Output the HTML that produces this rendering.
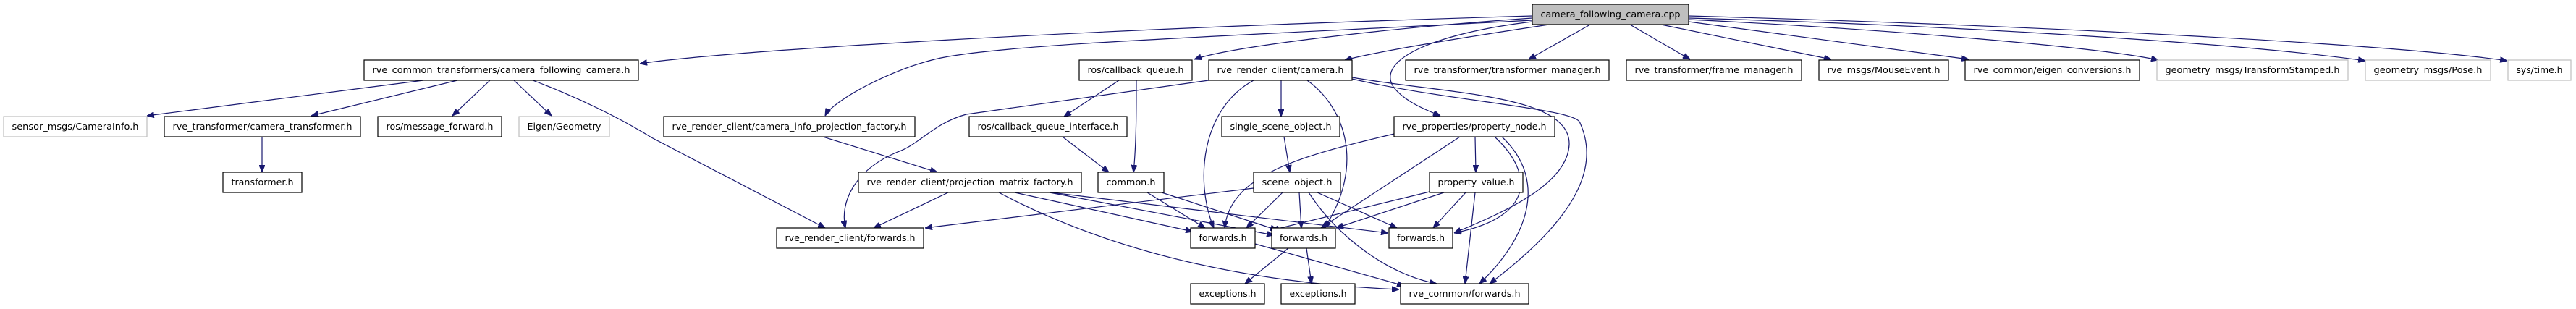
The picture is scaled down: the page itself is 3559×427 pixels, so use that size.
<!DOCTYPE html>
<html><head><meta charset="utf-8"><style>
html,body{margin:0;padding:0;background:#fff;}
svg{display:block;}
text{font-family:"DejaVu Sans","Liberation Sans",sans-serif;font-size:12px;fill:#000;}
.n rect{fill:#fff;stroke:#000;stroke-width:1.2;}
.g rect{fill:#fff;stroke:#bfbfbf;stroke-width:1.2;}
.e path{fill:none;stroke:#191970;stroke-width:1.2;}
</style></head><body>
<svg width="3559" height="427" viewBox="0 0 3559 427" xmlns="http://www.w3.org/2000/svg">
<defs>
<marker id="a" markerWidth="10" markerHeight="8" refX="10" refY="4" orient="auto" markerUnits="userSpaceOnUse">
<path d="M0,0 L10,4 L0,8 Z" fill="#191970" stroke="#191970"/>
</marker>
</defs>
<g class="e" marker-end="url(#a)">
<path d="M2117,22 C1500,40 1000,70 884,88" marker-end="url(#a)"/>
<path d="M2117,25 C1900,40 1700,65 1650,82" marker-end="url(#a)"/>
<path d="M2140,34 C2000,55 1900,72 1858,83" marker-end="url(#a)"/>
<path d="M2117,28 C1700,50 1400,60 1300,80 C1230,95 1150,140 1140,160" marker-end="url(#a)"/>
<path d="M2117,30 C1990,45 1900,80 1925,120 C1940,140 1970,152 1990,160" marker-end="url(#a)"/>
<path d="M2197,34 L2112,82" marker-end="url(#a)"/>
<path d="M2252,34 L2335,82" marker-end="url(#a)"/>
<path d="M2295,34 L2530,82" marker-end="url(#a)"/>
<path d="M2333,30 L2720,82" marker-end="url(#a)"/>
<path d="M2333,27 C2600,40 2900,65 2982,83" marker-end="url(#a)"/>
<path d="M2333,25 C2700,35 3100,60 3268,84" marker-end="url(#a)"/>
<path d="M2333,22 C2800,35 3300,60 3464,84" marker-end="url(#a)"/>

<path d="M585,111 L203,160" marker-end="url(#a)"/>
<path d="M632,111 L430,160" marker-end="url(#a)"/>
<path d="M677,111 L625,160" marker-end="url(#a)"/>
<path d="M710,111 L762,160" marker-end="url(#a)"/>
<path d="M736,111 C800,135 860,165 900,190 L1140,315" marker-end="url(#a)"/>
<path d="M362,189 L362,238" marker-end="url(#a)"/>

<path d="M1546,111 L1470,161" marker-end="url(#a)"/>
<path d="M1570,111 C1570,150 1570,200 1566,238" marker-end="url(#a)"/>

<path d="M1670,111 L1335,158 C1290,170 1270,200 1240,210 C1180,235 1160,280 1168,315" marker-end="url(#a)"/>
<path d="M1732,111 C1660,150 1650,250 1677,315" marker-end="url(#a)"/>
<path d="M1770,111 L1770,161" marker-end="url(#a)"/>
<path d="M1806,111 C1860,150 1885,230 1830,315" marker-end="url(#a)"/>
<path d="M1868,107 C2000,130 2170,130 2168,200 C2165,260 2060,300 2009,322" marker-end="url(#a)"/>
<path d="M1868,109 C2000,140 2180,150 2183,170 C2210,230 2180,300 2058,392" marker-end="url(#a)"/>

<path d="M1137,189 L1295,238" marker-end="url(#a)"/>
<path d="M1468,189 L1532,238" marker-end="url(#a)"/>

<path d="M1310,266 L1207,315" marker-end="url(#a)"/>
<path d="M1402,266 L1648,320" marker-end="url(#a)"/>
<path d="M1450,266 L1760,325" marker-end="url(#a)"/>
<path d="M1452,266 L1918,322" marker-end="url(#a)"/>
<path d="M1380,266 C1520,340 1700,390 1933,400" marker-end="url(#a)"/>

<path d="M1585,266 L1665,315" marker-end="url(#a)"/>
<path d="M1605,266 L1765,318" marker-end="url(#a)"/>

<path d="M1774,189 L1782,238" marker-end="url(#a)"/>
<path d="M1732,260 L1278,315" marker-end="url(#a)"/>
<path d="M1772,266 L1722,315" marker-end="url(#a)"/>
<path d="M1795,266 L1798,315" marker-end="url(#a)"/>
<path d="M1820,266 L1930,315" marker-end="url(#a)"/>
<path d="M1808,266 C1850,330 1920,380 1985,392" marker-end="url(#a)"/>

<path d="M1926,185 C1800,215 1700,240 1692,315" marker-end="url(#a)"/>
<path d="M2017,189 L1825,315" marker-end="url(#a)"/>
<path d="M2038,189 L2039,238" marker-end="url(#a)"/>
<path d="M2065,189 C2120,240 2120,300 2009,322" marker-end="url(#a)"/>
<path d="M2075,189 C2140,250 2110,330 2044,392" marker-end="url(#a)"/>

<path d="M1975,265 L1757,318" marker-end="url(#a)"/>
<path d="M1995,266 L1846,315" marker-end="url(#a)"/>
<path d="M2025,266 L1980,315" marker-end="url(#a)"/>
<path d="M2038,266 L2024,392" marker-end="url(#a)"/>

<path d="M1734,337 L1940,395" marker-end="url(#a)"/>
<path d="M1780,343 L1720,392" marker-end="url(#a)"/>
<path d="M1805,343 L1812,392" marker-end="url(#a)"/>
</g>

<!-- nodes -->
<g class="n"><rect x="2117" y="6" width="216" height="28" style="fill:#bfbfbf"/><text x="2225" y="20" text-anchor="middle" dominant-baseline="central" textLength="193" lengthAdjust="spacingAndGlyphs">camera_following_camera.cpp</text></g>

<g class="n"><rect x="503" y="83" width="379" height="28"/><text x="692.5" y="97" text-anchor="middle" dominant-baseline="central" textLength="356" lengthAdjust="spacingAndGlyphs">rve_common_transformers/camera_following_camera.h</text></g>
<g class="n"><rect x="1491" y="83" width="156" height="28"/><text x="1569" y="97" text-anchor="middle" dominant-baseline="central" textLength="133" lengthAdjust="spacingAndGlyphs">ros/callback_queue.h</text></g>
<g class="n"><rect x="1670" y="83" width="198" height="28"/><text x="1769" y="97" text-anchor="middle" dominant-baseline="central" textLength="175" lengthAdjust="spacingAndGlyphs">rve_render_client/camera.h</text></g>
<g class="n"><rect x="1942" y="83" width="281" height="28"/><text x="2082.5" y="97" text-anchor="middle" dominant-baseline="central" textLength="258" lengthAdjust="spacingAndGlyphs">rve_transformer/transformer_manager.h</text></g>
<g class="n"><rect x="2247" y="83" width="242" height="28"/><text x="2368" y="97" text-anchor="middle" dominant-baseline="central" textLength="219" lengthAdjust="spacingAndGlyphs">rve_transformer/frame_manager.h</text></g>
<g class="n"><rect x="2513" y="83" width="179" height="28"/><text x="2602.5" y="97" text-anchor="middle" dominant-baseline="central" textLength="156" lengthAdjust="spacingAndGlyphs">rve_msgs/MouseEvent.h</text></g>
<g class="n"><rect x="2715" y="83" width="241" height="28"/><text x="2835.5" y="97" text-anchor="middle" dominant-baseline="central" textLength="218" lengthAdjust="spacingAndGlyphs">rve_common/eigen_conversions.h</text></g>
<g class="g"><rect x="2980" y="83" width="264" height="28"/><text x="3112" y="97" text-anchor="middle" dominant-baseline="central" textLength="241" lengthAdjust="spacingAndGlyphs">geometry_msgs/TransformStamped.h</text></g>
<g class="g"><rect x="3268" y="83" width="173" height="28"/><text x="3354.5" y="97" text-anchor="middle" dominant-baseline="central" textLength="150" lengthAdjust="spacingAndGlyphs">geometry_msgs/Pose.h</text></g>
<g class="g"><rect x="3465" y="83" width="87" height="28"/><text x="3508.5" y="97" text-anchor="middle" dominant-baseline="central" textLength="64" lengthAdjust="spacingAndGlyphs">sys/time.h</text></g>

<g class="g"><rect x="5" y="161" width="198" height="28"/><text x="104" y="175" text-anchor="middle" dominant-baseline="central" textLength="175" lengthAdjust="spacingAndGlyphs">sensor_msgs/CameraInfo.h</text></g>
<g class="n"><rect x="227" y="161" width="271" height="28"/><text x="362.5" y="175" text-anchor="middle" dominant-baseline="central" textLength="248" lengthAdjust="spacingAndGlyphs">rve_transformer/camera_transformer.h</text></g>
<g class="n"><rect x="522" y="161" width="171" height="28"/><text x="607.5" y="175" text-anchor="middle" dominant-baseline="central" textLength="148" lengthAdjust="spacingAndGlyphs">ros/message_forward.h</text></g>
<g class="g"><rect x="717" y="161" width="125" height="28"/><text x="779.5" y="175" text-anchor="middle" dominant-baseline="central" textLength="102" lengthAdjust="spacingAndGlyphs">Eigen/Geometry</text></g>
<g class="n"><rect x="917" y="161" width="347" height="28"/><text x="1090.5" y="175" text-anchor="middle" dominant-baseline="central" textLength="324" lengthAdjust="spacingAndGlyphs">rve_render_client/camera_info_projection_factory.h</text></g>
<g class="n"><rect x="1339" y="161" width="218" height="28"/><text x="1448" y="175" text-anchor="middle" dominant-baseline="central" textLength="195" lengthAdjust="spacingAndGlyphs">ros/callback_queue_interface.h</text></g>
<g class="n"><rect x="1688" y="161" width="163" height="28"/><text x="1769.5" y="175" text-anchor="middle" dominant-baseline="central" textLength="140" lengthAdjust="spacingAndGlyphs">single_scene_object.h</text></g>
<g class="n"><rect x="1926" y="161" width="222" height="28"/><text x="2037" y="175" text-anchor="middle" dominant-baseline="central" textLength="199" lengthAdjust="spacingAndGlyphs">rve_properties/property_node.h</text></g>

<g class="n"><rect x="308" y="238" width="109" height="28"/><text x="362.5" y="252" text-anchor="middle" dominant-baseline="central" textLength="86" lengthAdjust="spacingAndGlyphs">transformer.h</text></g>
<g class="n"><rect x="1186" y="238" width="308" height="28"/><text x="1340" y="252" text-anchor="middle" dominant-baseline="central" textLength="285" lengthAdjust="spacingAndGlyphs">rve_render_client/projection_matrix_factory.h</text></g>
<g class="n"><rect x="1517" y="238" width="91" height="28"/><text x="1562.5" y="252" text-anchor="middle" dominant-baseline="central" textLength="68" lengthAdjust="spacingAndGlyphs">common.h</text></g>
<g class="n"><rect x="1732" y="238" width="120" height="28"/><text x="1792" y="252" text-anchor="middle" dominant-baseline="central" textLength="97" lengthAdjust="spacingAndGlyphs">scene_object.h</text></g>
<g class="n"><rect x="1975" y="238" width="129" height="28"/><text x="2039.5" y="252" text-anchor="middle" dominant-baseline="central" textLength="106" lengthAdjust="spacingAndGlyphs">property_value.h</text></g>

<g class="n"><rect x="1073" y="315" width="203" height="28"/><text x="1174.5" y="329" text-anchor="middle" dominant-baseline="central" textLength="180" lengthAdjust="spacingAndGlyphs">rve_render_client/forwards.h</text></g>
<g class="n"><rect x="1645" y="315" width="89" height="28"/><text x="1689.5" y="329" text-anchor="middle" dominant-baseline="central" textLength="66" lengthAdjust="spacingAndGlyphs">forwards.h</text></g>
<g class="n"><rect x="1757" y="315" width="88" height="28"/><text x="1801" y="329" text-anchor="middle" dominant-baseline="central" textLength="66" lengthAdjust="spacingAndGlyphs">forwards.h</text></g>
<g class="n"><rect x="1919" y="315" width="88" height="28"/><text x="1963" y="329" text-anchor="middle" dominant-baseline="central" textLength="66" lengthAdjust="spacingAndGlyphs">forwards.h</text></g>

<g class="n"><rect x="1645" y="392" width="102" height="28"/><text x="1696" y="406" text-anchor="middle" dominant-baseline="central" textLength="79" lengthAdjust="spacingAndGlyphs">exceptions.h</text></g>
<g class="n"><rect x="1770" y="392" width="102" height="28"/><text x="1821" y="406" text-anchor="middle" dominant-baseline="central" textLength="79" lengthAdjust="spacingAndGlyphs">exceptions.h</text></g>
<g class="n"><rect x="1935" y="392" width="177" height="28"/><text x="2023.5" y="406" text-anchor="middle" dominant-baseline="central" textLength="154" lengthAdjust="spacingAndGlyphs">rve_common/forwards.h</text></g>
</svg>
</body></html>
